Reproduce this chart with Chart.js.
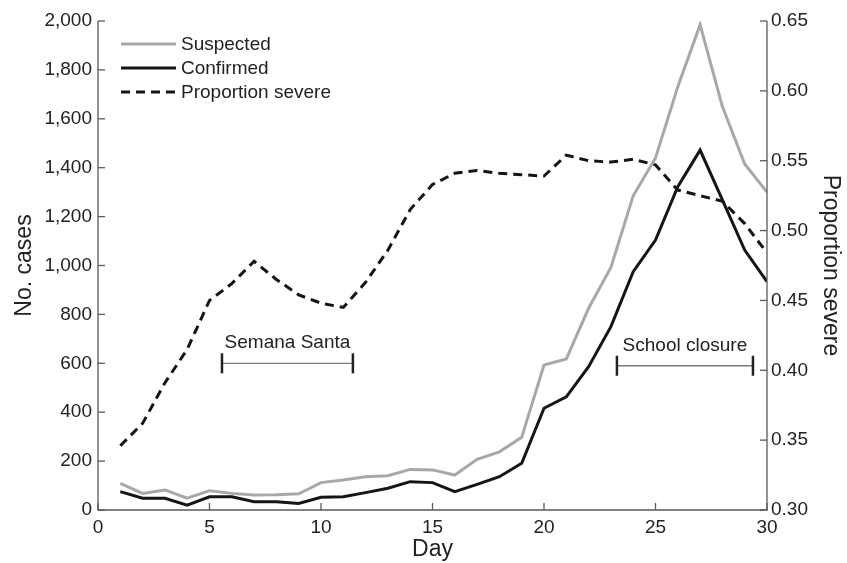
<!DOCTYPE html>
<html>
<head>
<meta charset="utf-8">
<script src="https://cdn.jsdelivr.net/npm/chart.js@4"></script>
<style>
  html, body { margin: 0; padding: 0; background: #fff; }
  #wrap { width: 847px; height: 563px; }
</style>
</head>
<body>
<div id="wrap"><canvas id="grafico"></canvas></div>
<script>
// Datos
const dias = [1,2,3,4,5,6,7,8,9,10,11,12,13,14,15,16,17,18,19,20,21,22,23,24,25,26,27,28,29,30];
const sospechosos = [109,68,82,48,79,68,61,62,66,112,123,136,140,166,164,143,207,238,297,593,618,825,992,1285,1440,1731,1985,1650,1415,1300];
const confirmados = [75,48,48,20,54,54,34,34,27,52,54,71,89,116,112,75,105,136,191,416,463,586,750,975,1104,1322,1472,1268,1063,934];
const proporcionSevera = [0.346,0.362,0.391,0.415,0.450,0.462,0.478,0.465,0.454,0.448,0.445,0.463,0.486,0.515,0.533,0.541,0.543,0.541,0.540,0.539,0.554,0.550,0.549,0.551,0.547,0.529,0.525,0.521,0.505,0.484];
const ticksDia = [0,5,10,15,20,25,30];
const ticksCasos = [0,200,400,600,800,1000,1200,1400,1600,1800,2000];
const ticksProporcion = [0.30,0.35,0.40,0.45,0.50,0.55,0.60,0.65];
const etiquetasSerie = ["Suspected", "Confirmed", "Proportion severe"];
// Periodos anotados: [inicio, fin, nivel en casos]
const periodos = [
  { texto: "Semana Santa", desde: 5.56, hasta: 11.43, nivel: 600 },
  { texto: "School closure", desde: 23.27, hasta: 29.37, nivel: 590 },
];

const fuente = "'Liberation Sans', Arial, sans-serif";
const colorTexto = "#222";
const colorEje = "#5a5a5a";

const aPuntos = (ys) => dias.map((d, i) => ({ x: d, y: ys[i] }));

// Marcas de los ejes hacia dentro + anotaciones + leyenda
const pluginEjes = {
  id: "ejes",
  afterDraw(chart) {
    const ctx = chart.ctx;
    const { x, y, y1 } = chart.scales;
    const area = chart.chartArea;
    ctx.save();
    ctx.strokeStyle = colorEje;
    ctx.lineWidth = 1.3;
    ctx.beginPath();
    ctx.moveTo(area.left, area.top);
    ctx.lineTo(area.left, area.bottom);
    ctx.lineTo(area.right, area.bottom);
    ctx.lineTo(area.right, area.top);
    ctx.stroke();
    ticksDia.forEach((v) => {
      const px = x.getPixelForValue(v);
      ctx.beginPath();
      ctx.moveTo(px, area.bottom);
      ctx.lineTo(px, area.bottom - 7);
      ctx.stroke();
    });
    ticksCasos.forEach((v) => {
      const py = y.getPixelForValue(v);
      ctx.beginPath();
      ctx.moveTo(area.left, py);
      ctx.lineTo(area.left + 7, py);
      ctx.stroke();
    });
    ticksProporcion.forEach((v) => {
      const py = y1.getPixelForValue(v);
      ctx.beginPath();
      ctx.moveTo(area.right, py);
      ctx.lineTo(area.right - 7, py);
      ctx.stroke();
    });

    // Anotaciones de periodos
    periodos.forEach((p) => {
      const x0 = x.getPixelForValue(p.desde);
      const x1 = x.getPixelForValue(p.hasta);
      const py = y.getPixelForValue(p.nivel);
      ctx.strokeStyle = "#777";
      ctx.lineWidth = 1.3;
      ctx.beginPath();
      ctx.moveTo(x0, py);
      ctx.lineTo(x1, py);
      ctx.stroke();
      ctx.strokeStyle = "#222";
      ctx.lineWidth = 2.5;
      [x0, x1].forEach((px) => {
        ctx.beginPath();
        ctx.moveTo(px, py - 10);
        ctx.lineTo(px, py + 10);
        ctx.stroke();
      });
      ctx.fillStyle = colorTexto;
      ctx.font = "19px " + fuente;
      ctx.textAlign = "center";
      ctx.textBaseline = "alphabetic";
      ctx.fillText(p.texto, (x0 + x1) / 2, py - 15);
    });

    // Leyenda
    const estilos = chart.data.datasets;
    ctx.font = "19px " + fuente;
    ctx.textAlign = "left";
    ctx.textBaseline = "middle";
    estilos.forEach((ds, i) => {
      const ly = area.top + 23 + i * 24;
      ctx.strokeStyle = ds.borderColor;
      ctx.lineWidth = ds.borderWidth;
      ctx.setLineDash(ds.borderDash || []);
      ctx.beginPath();
      ctx.moveTo(area.left + 23, ly);
      ctx.lineTo(area.left + 78, ly);
      ctx.stroke();
      ctx.setLineDash([]);
      ctx.fillStyle = colorTexto;
      ctx.fillText(etiquetasSerie[i], area.left + 83, ly + 1);
    });
    ctx.restore();
  },
};

new Chart(document.getElementById("grafico"), {
  type: "line",
  data: {
    datasets: [
      {
        label: etiquetasSerie[0],
        data: aPuntos(sospechosos),
        borderColor: "#a8a8a8",
        borderWidth: 3,
        pointRadius: 0,
        yAxisID: "y",
      },
      {
        label: etiquetasSerie[1],
        data: aPuntos(confirmados),
        borderColor: "#151515",
        borderWidth: 3,
        pointRadius: 0,
        yAxisID: "y",
      },
      {
        label: etiquetasSerie[2],
        data: aPuntos(proporcionSevera),
        borderColor: "#151515",
        borderWidth: 3,
        borderDash: [9, 6],
        pointRadius: 0,
        yAxisID: "y1",
      },
    ],
  },
  options: {
    responsive: true,
    maintainAspectRatio: false,
    animation: false,
    layout: { padding: { top: 21, left: 0, right: 0, bottom: 0 } },
    plugins: {
      legend: { display: false },
      tooltip: { enabled: false },
    },
    scales: {
      x: {
        type: "linear",
        min: 0,
        max: 30,
        afterBuildTicks: (s) => { s.ticks = ticksDia.map((v) => ({ value: v })); },
        afterFit: (s) => { s.height = 53; },
        border: { display: false },
        grid: { display: false, drawTicks: false },
        ticks: { color: colorTexto, font: { family: fuente, size: 19 }, padding: 6 },
        title: { display: true, text: "Day", color: colorTexto, font: { family: fuente, size: 23 }, padding: { top: 0, bottom: 0 } },
      },
      y: {
        position: "left",
        min: 0,
        max: 2000,
        afterBuildTicks: (s) => { s.ticks = ticksCasos.map((v) => ({ value: v })); },
        afterFit: (s) => { s.width = 98; },
        border: { display: false },
        grid: { display: false, drawTicks: false },
        ticks: {
          color: colorTexto,
          font: { family: fuente, size: 19 },
          padding: 6,
          callback: (v) => v.toLocaleString("en-US"),
        },
        title: { display: true, text: "No. cases", color: colorTexto, font: { family: fuente, size: 23 }, padding: { top: 11, bottom: 0 } },
      },
      y1: {
        position: "right",
        min: 0.3,
        max: 0.65,
        afterBuildTicks: (s) => { s.ticks = ticksProporcion.map((v) => ({ value: v })); },
        afterFit: (s) => { s.width = 80; },
        border: { display: false },
        grid: { display: false, drawTicks: false },
        ticks: {
          color: colorTexto,
          font: { family: fuente, size: 19 },
          padding: 4,
          callback: (v) => v.toFixed(2),
        },
        title: { display: true, text: "Proportion severe", color: colorTexto, font: { family: fuente, size: 23 }, padding: { top: 3, bottom: 0 } },
      },
    },
  },
  plugins: [pluginEjes],
});
</script>
</body>
</html>
